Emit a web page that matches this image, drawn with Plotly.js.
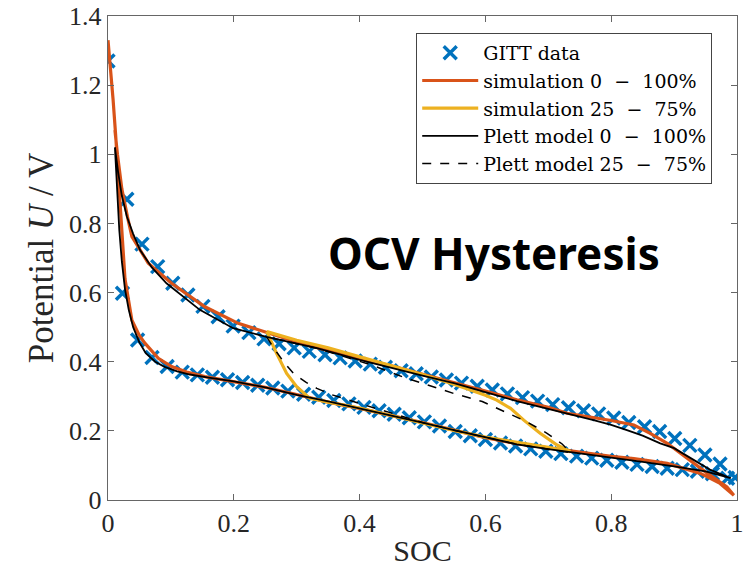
<!DOCTYPE html>
<html>
<head>
<meta charset="utf-8">
<script src="https://cdn.plot.ly/plotly-3.0.1.min.js"></script>
<style>html,body{margin:0;padding:0;background:#fff;}#chart{width:754px;height:576px;}</style>
</head>
<body>
<div id="chart"></div>
<script>
// GITT data - upper (delithiation) branch
const gittUpSoc = [0, 0.030, 0.054, 0.079, 0.103, 0.127, 0.151, 0.175, 0.199, 0.224, 0.248, 0.272, 0.296, 0.320, 0.345, 0.369, 0.393, 0.417, 0.441, 0.466, 0.490, 0.514, 0.538, 0.562, 0.587, 0.611, 0.635, 0.659, 0.683, 0.707, 0.732, 0.756, 0.780, 0.804, 0.828, 0.853, 0.877, 0.901, 0.925, 0.949, 0.973, 0.997];
const gittUpU   = [1.27, 0.87, 0.74, 0.675, 0.627, 0.593, 0.560, 0.530, 0.503, 0.484, 0.466, 0.452, 0.440, 0.430, 0.420, 0.411, 0.402, 0.393, 0.384, 0.374, 0.365, 0.356, 0.347, 0.338, 0.329, 0.318, 0.307, 0.296, 0.286, 0.276, 0.267, 0.258, 0.249, 0.237, 0.224, 0.212, 0.198, 0.178, 0.158, 0.130, 0.104, 0.065];
// GITT data - lower (lithiation) branch
const gittDnSoc = [0.023, 0.047, 0.070, 0.094, 0.118, 0.142, 0.166, 0.190, 0.214, 0.238, 0.262, 0.286, 0.311, 0.335, 0.359, 0.383, 0.407, 0.431, 0.455, 0.479, 0.503, 0.527, 0.552, 0.576, 0.600, 0.624, 0.648, 0.672, 0.696, 0.720, 0.745, 0.769, 0.793, 0.817, 0.841, 0.865, 0.889, 0.913, 0.937, 0.961, 0.985];
const gittDnU   = [0.598, 0.463, 0.412, 0.386, 0.370, 0.362, 0.355, 0.348, 0.340, 0.332, 0.324, 0.315, 0.306, 0.297, 0.288, 0.278, 0.268, 0.258, 0.248, 0.238, 0.226, 0.214, 0.198, 0.186, 0.175, 0.165, 0.156, 0.148, 0.141, 0.134, 0.127, 0.121, 0.115, 0.109, 0.103, 0.097, 0.092, 0.088, 0.083, 0.076, 0.063];

// Simulation 0-100% (closed loop: lower branch 0->1, upper branch 1->0)
const sim100Soc = [0, 0.004, 0.008, 0.012, 0.016, 0.020, 0.027, 0.038, 0.05, 0.059, 0.08, 0.101, 0.125, 0.154, 0.2, 0.25, 0.3, 0.35, 0.4, 0.45, 0.5, 0.55, 0.6, 0.65, 0.7, 0.746, 0.8, 0.836, 0.889, 0.942, 0.973, 0.995,
                   0.984, 0.953, 0.921, 0.889, 0.862, 0.836, 0.80, 0.78, 0.73, 0.7, 0.65, 0.6, 0.55, 0.5, 0.45, 0.4, 0.35, 0.3, 0.25, 0.207, 0.154, 0.101, 0.064, 0.038, 0.032, 0.022, 0.015, 0.011];
const sim100U   = [1.33, 1.25, 1.16, 1.06, 0.94, 0.82, 0.64, 0.52, 0.475, 0.453, 0.41, 0.386, 0.37, 0.357, 0.342, 0.326, 0.305, 0.283, 0.265, 0.245, 0.224, 0.202, 0.18, 0.163, 0.15, 0.14, 0.126, 0.12, 0.106, 0.077, 0.048, 0.014,
                   0.038, 0.077, 0.12, 0.164, 0.193, 0.217, 0.230, 0.236, 0.251, 0.268, 0.29, 0.315, 0.34, 0.365, 0.388, 0.41, 0.432, 0.457, 0.487, 0.511, 0.559, 0.627, 0.685, 0.762, 0.81, 0.9, 1.0, 1.07];

// Simulation 25-75%
const sim25Soc = [0.2525, 0.3, 0.35, 0.4, 0.45, 0.5, 0.55, 0.6, 0.618, 0.64, 0.661, 0.687, 0.714, 0.735, 0.7, 0.65, 0.6, 0.55, 0.5, 0.45, 0.4, 0.35, 0.321, 0.30, 0.284, 0.268, 0.2525];
const sim25U   = [0.487, 0.462, 0.44, 0.415, 0.39, 0.363, 0.335, 0.303, 0.289, 0.265, 0.231, 0.193, 0.159, 0.14, 0.152, 0.166, 0.182, 0.201, 0.222, 0.245, 0.266, 0.283, 0.294, 0.328, 0.366, 0.424, 0.487];

// Plett model 0-100%
const plett100Soc = [0.011, 0.014, 0.018, 0.022, 0.027, 0.033, 0.04, 0.05, 0.06, 0.075, 0.09, 0.11, 0.13, 0.16, 0.2, 0.25, 0.3, 0.35, 0.4, 0.45, 0.5, 0.55, 0.6, 0.65, 0.7, 0.746, 0.8, 0.85, 0.9, 0.95, 0.99,
                     0.958, 0.931, 0.9, 0.878, 0.85, 0.825, 0.8, 0.772, 0.735, 0.7, 0.65, 0.6, 0.55, 0.5, 0.465, 0.4, 0.332, 0.3, 0.252, 0.199, 0.146, 0.093, 0.07, 0.051, 0.040, 0.030, 0.022, 0.016, 0.011];
const plett100U   = [1.02, 0.90, 0.78, 0.69, 0.61, 0.55, 0.50, 0.455, 0.425, 0.40, 0.385, 0.372, 0.363, 0.354, 0.343, 0.326, 0.304, 0.285, 0.265, 0.245, 0.224, 0.202, 0.181, 0.161, 0.147, 0.136, 0.122, 0.11, 0.097, 0.083, 0.063,
                     0.087, 0.116, 0.150, 0.164, 0.186, 0.202, 0.217, 0.231, 0.248, 0.262, 0.286, 0.312, 0.338, 0.36, 0.376, 0.405, 0.439, 0.452, 0.472, 0.497, 0.55, 0.627, 0.672, 0.723, 0.77, 0.82, 0.88, 0.95, 1.02];

// Plett model 25-75%
const plett25Soc = [0.252, 0.258, 0.268, 0.28, 0.295, 0.315, 0.332, 0.355, 0.374, 0.4, 0.425, 0.45, 0.5, 0.55, 0.6, 0.65, 0.7, 0.735, 0.722, 0.698, 0.666, 0.624, 0.595, 0.55, 0.52, 0.47, 0.42, 0.37, 0.332, 0.3, 0.252];
const plett25U   = [0.472, 0.455, 0.428, 0.398, 0.366, 0.34, 0.323, 0.305, 0.294, 0.278, 0.265, 0.252, 0.224, 0.202, 0.181, 0.161, 0.147, 0.137, 0.162, 0.193, 0.226, 0.262, 0.285, 0.308, 0.325, 0.355, 0.39, 0.418, 0.439, 0.452, 0.472];

const xTicks = [0, 0.2, 0.4, 0.6, 0.8, 1];
const xTickText = ['0', '0.2', '0.4', '0.6', '0.8', '1'];
const yTicks = [0, 0.2, 0.4, 0.6, 0.8, 1, 1.2, 1.4];
const yTickText = ['0', '0.2', '0.4', '0.6', '0.8', '1', '1.2', '1.4'];
const seriesNames = ['GITT data', 'simulation 0\u00a0\u00a0\u2212\u00a0\u00a0100%', 'simulation 25\u00a0\u00a0\u2212\u00a0\u00a075%',
                     'Plett model 0\u00a0\u00a0\u2212\u00a0\u00a0100%', 'Plett model 25\u00a0\u00a0\u2212\u00a0\u00a075%'];

const serif = 'Liberation Serif, DejaVu Serif, serif';

const traces = [
  {x: gittUpSoc.concat([null], gittDnSoc), y: gittUpU.concat([null], gittDnU), mode: 'markers', name: seriesNames[0],
   marker: {symbol: 'x-thin-open', size: 13, color: '#0072BD', line: {color: '#0072BD', width: 3.4}}},
  {x: sim100Soc, y: sim100U, mode: 'lines', name: seriesNames[1], line: {color: '#D95319', width: 3.2}},
  {x: sim25Soc, y: sim25U, mode: 'lines', name: seriesNames[2], line: {color: '#EDB120', width: 3.2}},
  {x: plett100Soc, y: plett100U, mode: 'lines', name: seriesNames[3], line: {color: '#000000', width: 1.8}},
  {x: plett25Soc, y: plett25U, mode: 'lines', name: seriesNames[4], line: {color: '#000000', width: 1.5, dash: 'dash'}}
];

const axisCommon = {
  showline: true, mirror: 'ticks', linecolor: '#666', linewidth: 1.2,
  ticks: 'inside', ticklen: 6, tickcolor: '#666', tickwidth: 1,
  showgrid: false, zeroline: false,
  tickfont: {family: serif, size: 26, color: '#262626'}
};

const layout = {
  width: 754, height: 576,
  margin: {l: 108, r: 17, t: 16, b: 76},
  paper_bgcolor: '#fff', plot_bgcolor: '#fff',
  showlegend: true,
  xaxis: Object.assign({}, axisCommon, {range: [0, 1], tickvals: xTicks, ticktext: xTickText,
    title: {text: 'SOC', font: {family: serif, size: 30, color: '#262626'}, standoff: 2}}),
  yaxis: Object.assign({}, axisCommon, {range: [0, 1.4], tickvals: yTicks, ticktext: yTickText,
    title: {text: 'Potential <i>U</i> / V', font: {family: serif, size: 35, color: '#262626'}, standoff: 4}}),
  legend: {x: 0.49, y: 0.965, xanchor: 'left', yanchor: 'top', bgcolor: '#fff', bordercolor: '#444', borderwidth: 1,
    font: {family: 'DejaVu Serif, serif', size: 19, color: '#000'}, tracegroupgap: 0, itemwidth: 56},
  annotations: [{text: '<b>OCV Hysteresis</b>', xref: 'paper', yref: 'paper', x: 0.613, y: 0.51, xanchor: 'center', yanchor: 'middle',
    showarrow: false, font: {family: 'Noto Sans, sans-serif', size: 44, color: '#000'}}]
};

Plotly.newPlot('chart', traces, layout, {displayModeBar: false, staticPlot: true});
</script>
</body>
</html>
